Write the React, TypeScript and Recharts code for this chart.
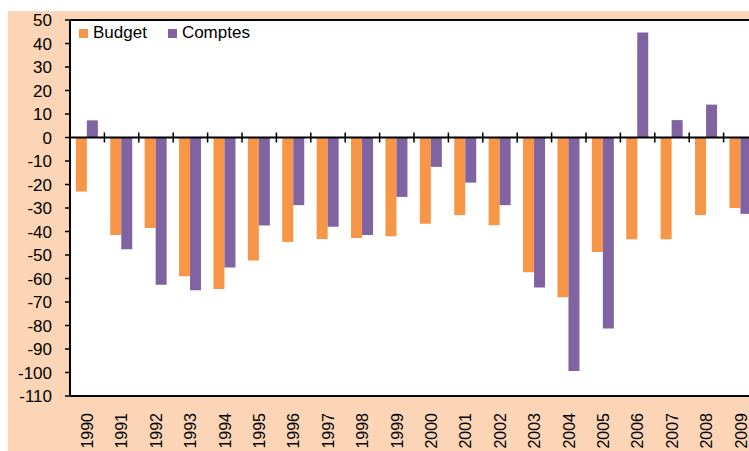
import React from 'react';
import { BarChart, Bar, XAxis, YAxis, CartesianGrid, ReferenceLine } from 'recharts';

const years = ['1990','1991','1992','1993','1994','1995','1996','1997','1998','1999','2000','2001','2002','2003','2004','2005','2006','2007','2008','2009'];
const budget = [-23, -41.5, -38.5, -59, -64.5, -52.3, -44.5, -43.2, -42.8, -42, -36.7, -33, -37.3, -57.3, -68, -48.7, -43.3, -43.3, -33, -30];
const comptes = [7.3, -47.5, -62.7, -65, -55.3, -37.4, -28.8, -38, -41.5, -25.3, -12.5, -19.2, -28.8, -63.8, -99.4, -81.3, 44.7, 7.4, 14, -32.5];
const yTicks = [50, 40, 30, 20, 10, 0, -10, -20, -30, -40, -50, -60, -70, -80, -90, -100, -110];

const data = years.map((y, i) => ({ year: y, Budget: budget[i], Comptes: comptes[i] }));

const W = 760;
const H = 445;
const M = { top: 9, right: 10, left: 0, bottom: 0 };
const Y_W = 62;
const X_H = 60;
const Y_MIN = -110;
const Y_MAX = 50;
const PLOT_W = W - M.left - M.right - Y_W;
const PLOT_H = H - M.top - M.bottom - X_H;
const ZERO_Y = M.top + (PLOT_H * Y_MAX) / (Y_MAX - Y_MIN);
const BAND = PLOT_W / years.length;

const ORANGE = '#F79646';
const PURPLE = '#8064A2';
const FONT = '"Liberation Sans", Arial, sans-serif';
const FS = 17;

const XTick = (props: any) => {
  const { x, payload, index } = props;
  const ty = M.top + PLOT_H + 17;
  const bx = x + BAND / 2;
  return (
    <g>
      {index < years.length - 1 && (
        <line x1={bx} x2={bx} y1={ZERO_Y - 5} y2={ZERO_Y + 5} stroke="#000" strokeWidth={1.5} />
      )}
      <text
        x={x}
        y={ty}
        transform={`rotate(-90 ${x} ${ty})`}
        textAnchor="end"
        dy="0.36em"
        fontSize={16}
        fontFamily={FONT}
        fill="#000"
      >
        {payload.value}
      </text>
    </g>
  );
};

export default function App() {
  return (
    <div style={{ position: 'fixed', left: 8, top: 11, width: 741, height: 440, overflow: 'hidden' }}>
      <div style={{ position: 'relative', width: W, height: H, background: '#FBD5B5' }}>
        <BarChart width={W} height={H} data={data} margin={M} barCategoryGap="17%" barGap={0}>
          <rect x={Y_W} y={M.top} width={PLOT_W} height={PLOT_H} fill="#fff" />
          <CartesianGrid vertical={false} stroke="#C4C4C4" strokeWidth={1.5} fill="#fff" fillOpacity={1} />
          <XAxis
            dataKey="year"
            height={X_H}
            interval={0}
            tickLine={false}
            axisLine={{ stroke: '#000', strokeWidth: 2 }}
            tick={<XTick />}
          />
          <YAxis
            domain={[Y_MIN, Y_MAX]}
            ticks={yTicks}
            width={Y_W}
            interval={0}
            tickSize={5}
            tickMargin={13}
            axisLine={{ stroke: '#000', strokeWidth: 2 }}
            tickLine={{ stroke: '#000', strokeWidth: 1.5 }}
            tick={{ fontSize: FS, fontFamily: FONT, fill: '#000' }}
          />
          <ReferenceLine y={Y_MAX} stroke="#000" strokeWidth={2} />
          <Bar dataKey="Budget" fill={ORANGE} isAnimationActive={false} />
          <Bar dataKey="Comptes" fill={PURPLE} isAnimationActive={false} />
          <ReferenceLine y={0} stroke="#000" strokeWidth={2} />
        </BarChart>
        <div
          style={{
            position: 'absolute',
            left: 71,
            top: 12,
            display: 'flex',
            alignItems: 'center',
            fontFamily: FONT,
            fontSize: FS,
            color: '#000',
            lineHeight: '20px',
          }}
        >
          <span style={{ width: 9, height: 9, background: ORANGE, display: 'inline-block', marginRight: 5 }} />
          <span style={{ marginRight: 21 }}>Budget</span>
          <span style={{ width: 9, height: 9, background: PURPLE, display: 'inline-block', marginRight: 5 }} />
          <span>Comptes</span>
        </div>
      </div>
    </div>
  );
}
